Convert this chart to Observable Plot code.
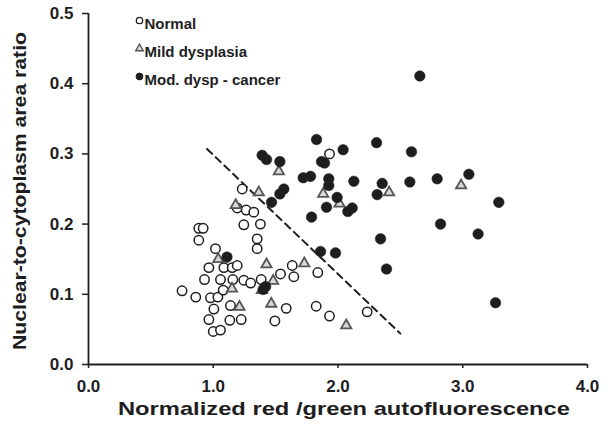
<!DOCTYPE html>
<html>
<head>
<meta charset="utf-8">
<script src="https://cdn.jsdelivr.net/npm/d3@7"></script>
<script src="https://cdn.jsdelivr.net/npm/@observablehq/plot@0.6"></script>
<style>
  html, body { margin: 0; padding: 0; background: #fff; }
  #chart { width: 612px; height: 424px; }
</style>
</head>
<body>
<div id="chart"></div>
<script>
// ---- Data ----
const normalX = [0.75,0.86,0.884,0.919,0.884,0.93,0.965,1.018,0.978,1.037,1.005,0.965,1.0,1.058,1.058,1.08,1.085,1.152,1.192,1.157,1.138,1.133,1.224,1.245,1.30,1.232,1.192,1.264,1.325,1.245,1.378,1.352,1.352,1.384,1.539,1.633,1.646,1.838,1.585,1.494,1.825,1.932,2.234,1.932];
const normalY = [0.105,0.096,0.194,0.194,0.177,0.121,0.138,0.165,0.095,0.096,0.079,0.064,0.047,0.049,0.121,0.106,0.138,0.138,0.141,0.121,0.084,0.063,0.064,0.12,0.116,0.25,0.223,0.22,0.217,0.199,0.2,0.179,0.165,0.121,0.129,0.141,0.125,0.131,0.08,0.062,0.083,0.069,0.075,0.30];

const mildX = [1.04,1.15,1.18,1.21,1.365,1.39,1.427,1.48,1.465,1.526,1.73,1.881,2.012,2.066,2.41,2.987];
const mildY = [0.150,0.108,0.227,0.082,0.245,0.106,0.1425,0.119,0.0865,0.275,0.144,0.243,0.229,0.0556,0.245,0.255];

const cancerX = [2.656,2.589,2.354,2.576,2.795,3.049,3.289,2.822,3.123,2.341,2.389,3.263,1.828,2.309,2.041,1.392,1.427,1.534,1.868,1.892,1.721,1.78,1.926,1.926,2.127,2.314,1.566,1.534,1.467,1.993,1.908,2.079,2.114,1.788,1.86,1.98,1.11,1.42,1.40];
const cancerY = [0.411,0.303,0.258,0.260,0.2645,0.271,0.231,0.200,0.186,0.179,0.136,0.088,0.3205,0.316,0.306,0.298,0.292,0.289,0.289,0.287,0.266,0.268,0.2645,0.255,0.261,0.242,0.250,0.243,0.231,0.238,0.224,0.218,0.223,0.21,0.161,0.159,0.153,0.111,0.107];

const dividerX = [0.95, 2.50];
const dividerY = [0.307, 0.044];

const xTicks = [0, 1, 2, 3, 4];
const yTicks = [0, 0.1, 0.2, 0.3, 0.4, 0.5];
const legendLabels = ["Normal", "Mild dysplasia", "Mod. dysp - cancer"];

const xTitle = "Normalized red /green autofluorescence";
const yTitle = "Nuclear-to-cytoplasm area ratio";

// ---- Build tables ----
const zip = (xs, ys) => xs.map((x, i) => ({x, y: ys[i]}));
const normal = zip(normalX, normalY);
const mild = zip(mildX, mildY);
const cancer = zip(cancerX, cancerY);
const divider = zip(dividerX, dividerY);

const FONT = "'Liberation Sans', Arial, Helvetica, sans-serif";
const INK = "#1e1e1e";

const legendStyles = [
  {symbol: "circle", fill: "white", stroke: INK, r: 3.2, strokeWidth: 1.3},
  {symbol: "triangle", fill: "#ddd", stroke: "#555", r: 2.8, strokeWidth: 1.4},
  {symbol: "circle", fill: INK, stroke: INK, r: 3.4, strokeWidth: 1}
];

const legendMarks = legendLabels.flatMap((label, i) => [
  Plot.dot([label], {
    frameAnchor: "top-left", dx: 51, dy: 7 + i * 28,
    symbol: legendStyles[i].symbol, r: legendStyles[i].r,
    fill: legendStyles[i].fill, stroke: legendStyles[i].stroke,
    strokeWidth: legendStyles[i].strokeWidth
  }),
  Plot.text([label], {
    frameAnchor: "top-left", dx: 56, dy: 11 + i * 28,
    text: d => d, textAnchor: "start", lineAnchor: "middle",
    fontSize: 15, fontWeight: "bold", fill: INK, fontFamily: FONT
  })
]);

const chart = Plot.plot({
  width: 612,
  height: 424,
  marginLeft: 88,
  marginRight: 25,
  marginTop: 13,
  marginBottom: 60,
  style: {fontFamily: FONT, color: INK, background: "white", overflow: "visible"},
  x: {domain: [0, 4]},
  y: {domain: [0, 0.5]},
  marks: [
    Plot.axisX({
      ticks: xTicks, tickFormat: d3.format(".1f"), tickSize: 4, tickPadding: 11,
      fontSize: 17, fontWeight: "bold", stroke: INK, strokeWidth: 1.5, fill: INK,
      label: null
    }),
    Plot.axisY({
      ticks: yTicks, tickFormat: d3.format(".1f"), tickSize: 6, tickPadding: 9,
      fontSize: 17, fontWeight: "bold", stroke: INK, strokeWidth: 1.5, fill: INK,
      label: null
    }),
    Plot.ruleY([0], {stroke: INK, strokeWidth: 1.8}),
    Plot.ruleX([0], {stroke: INK, strokeWidth: 1.8}),
    Plot.text([xTitle], {
      frameAnchor: "bottom", dy: 50, text: d => d, fontSize: 19, dx: 6,
      fontWeight: "bold", fill: INK, fontFamily: FONT
    }),
    Plot.text([yTitle], {
      frameAnchor: "left", dx: -68, dy: 2, rotate: -90, text: d => d, fontSize: 18,
      textAnchor: "middle", fontWeight: "bold", fill: INK, fontFamily: FONT
    }),
    Plot.line(divider, {x: "x", y: "y", stroke: INK, strokeWidth: 2, strokeDasharray: "7,5"}),
    Plot.dot(normal, {x: "x", y: "y", r: 4.7, symbol: "circle", fill: "white", stroke: INK, strokeWidth: 1.5}),
    Plot.dot(mild, {x: "x", y: "y", r: 3.8, symbol: "triangle", fill: "#d8d8d8", stroke: "#555", strokeWidth: 1.8}),
    Plot.dot(cancer, {x: "x", y: "y", r: 5.3, symbol: "circle", fill: INK, stroke: INK, strokeWidth: 0.5}),
    ...legendMarks
  ]
});

// stretch the axis titles to the widths seen in the reference
d3.select(chart).selectAll("text").each(function() {
  const t = this.textContent;
  if (t === xTitle) d3.select(this).attr("textLength", 452).attr("lengthAdjust", "spacingAndGlyphs");
  if (t === yTitle) d3.select(this).attr("textLength", 318).attr("lengthAdjust", "spacingAndGlyphs");
});

document.getElementById("chart").appendChild(chart);
</script>
</body>
</html>
